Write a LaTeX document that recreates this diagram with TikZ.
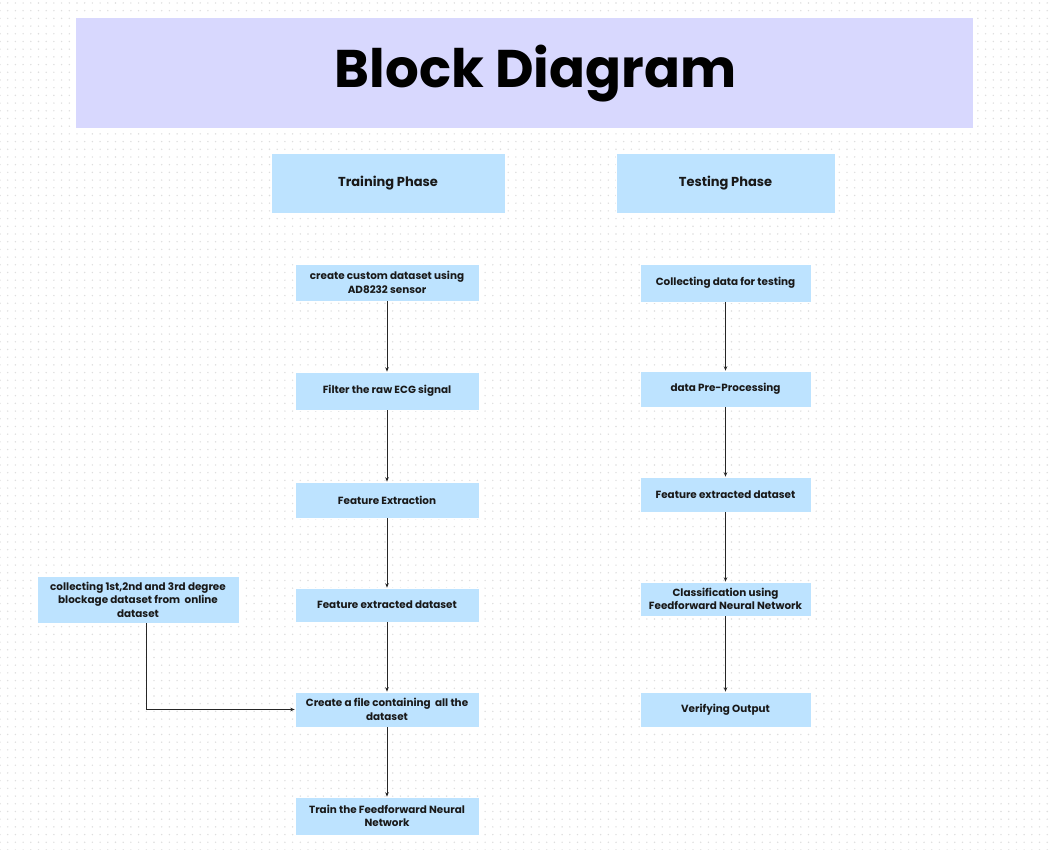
\documentclass[tikz,border=0pt]{standalone}
\usepackage{fontspec}
\setmainfont{Poppins}
\usetikzlibrary{arrows.meta,patterns.meta}
\definecolor{titlebg}{HTML}{D8D8FE}
\definecolor{boxbg}{HTML}{BDE3FF}
\definecolor{dotgray}{HTML}{DEDEDE}
\begin{document}
\begin{tikzpicture}[x=1pt, y=-1pt,
        blk/.style={fill=boxbg, draw=white, line width=0.6pt, align=center, inner sep=1pt,
            font=\fontsize{10.4}{13.5}\selectfont\bfseries, text=black!90},
        lcol/.style={blk, minimum width=184pt},
        rcol/.style={blk, minimum width=171pt},
        phase/.style={blk, minimum height=60pt, font=\fontsize{13}{15}\selectfont\bfseries},
        flow/.style={-{Stealth[length=4.5pt, width=3.5pt]}, line width=1pt, black!85}]
    \useasboundingbox (0,0) rectangle (1049,850);
    \fill[white] (0,0) rectangle (1049,850);
    \fill[pattern={Dots[distance=7.7pt, radius=0.8pt]}, pattern color=dotgray] (0,0) rectangle (1049,850);
    % title
    \node[fill=titlebg, draw=white, minimum width=898pt, minimum height=111pt] (title) at (524,72.5) {};
    \node[font=\fontsize{53}{60}\selectfont\bfseries] at (535.5,74) {Block Diagram};
    % phases
    \node[phase, minimum width=234pt] (train) at (388,183) {Training Phase};
    \node[phase, minimum width=219pt] (test) at (725.5,183) {Testing Phase};
    % training column
    \node[lcol, minimum height=37pt] (t1) at (387,282.5) {create custom dataset using\\AD8232 sensor};
    \node[lcol, minimum height=38pt] (t2) at (387,391) {Filter the raw ECG signal};
    \node[lcol, minimum height=36pt] (t3) at (387,500) {Feature Extraction};
    \node[lcol, minimum height=34pt] (t4) at (387,605) {Feature extracted dataset};
    \node[lcol, minimum height=35pt] (t5) at (387,709.5) {Create a file containing\ \ all the\\dataset};
    \node[lcol, minimum height=38pt] (t6) at (387,816) {Train the Feedforward Neural\\Network};
    \node[blk, minimum width=202pt, minimum height=47pt] (extra) at (138,599.5)
        {collecting 1st,2nd and 3rd degree\\blockage dataset from\ \ online\\dataset};
    % testing column
    \node[rcol, minimum height=38pt] (s1) at (725.5,283) {Collecting data for testing};
    \node[rcol, minimum height=36pt] (s2) at (725.5,389) {data Pre-Processing};
    \node[rcol, minimum height=35pt] (s3) at (725.5,494.5) {Feature extracted dataset};
    \node[rcol, minimum height=34pt] (s4) at (725.5,599) {Classification using\\Feedforward Neural Network};
    \node[rcol, minimum height=35pt] (s5) at (725.5,709.5) {Verifying Output};
    % arrows
    \foreach \a/\b in {t1/t2, t2/t3, t3/t4, t4/t5, t5/t6, s1/s2, s2/s3, s3/s4, s4/s5}
        \draw[flow] (\a) -- (\b);
    \draw[flow] (extra.south -| 146,0) |- (t5.west);
\end{tikzpicture}
\end{document}
